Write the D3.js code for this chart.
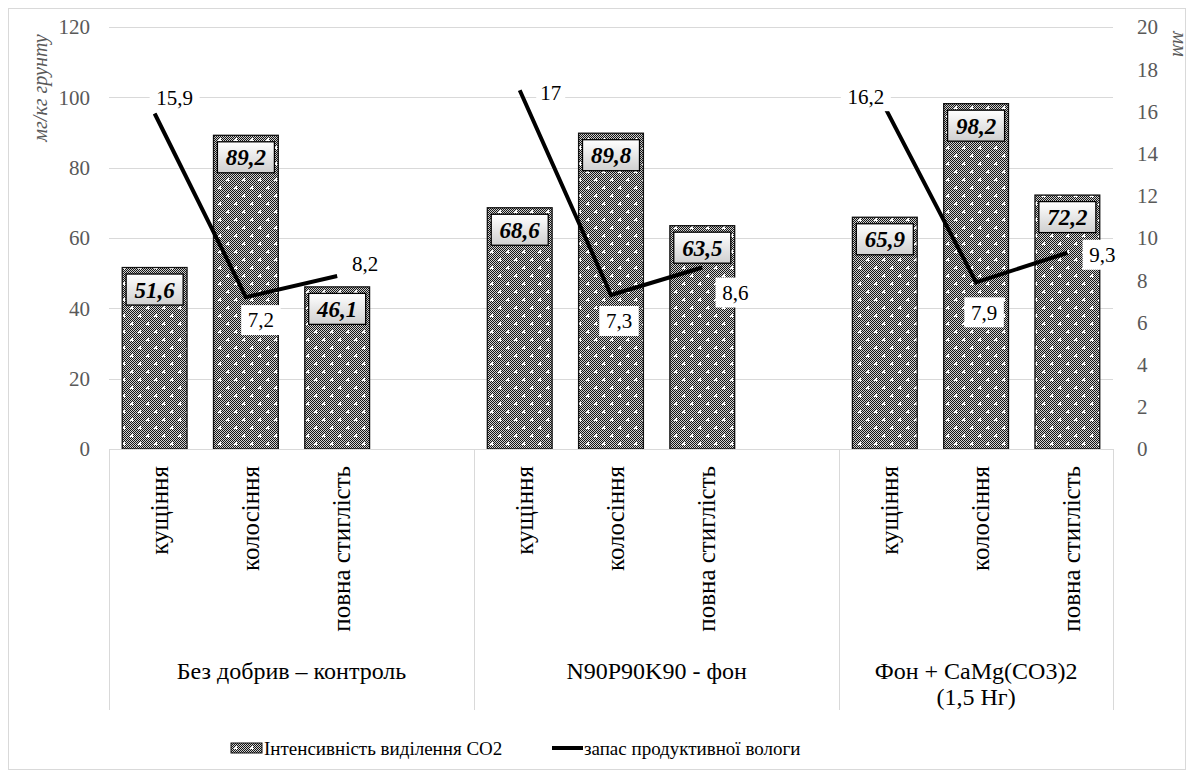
<!DOCTYPE html>
<html><head><meta charset="utf-8">
<script src="https://cdn.jsdelivr.net/npm/d3@7"></script>
<style>body{margin:0;background:#fff}svg{display:block}</style>
</head><body>
<svg id="c" width="1194" height="778" font-family="'Liberation Serif', Tinos, 'DejaVu Serif', serif"></svg>
<script>
const groups = ["Без добрив – контроль", "N90P90K90 - фон", "Фон + CaMg(CO3)2|(1,5 Нг)"];
const stages = ["кущіння", "колосіння", "повна стиглість"];
const co2 = [51.6, 89.2, 46.1, 68.6, 89.8, 63.5, 65.9, 98.2, 72.2];
const moisture = [15.9, 7.2, 8.2, 17, 7.3, 8.6, 16.2, 7.9, 9.3];
const leftTicks = [0, 20, 40, 60, 80, 100, 120];
const rightTicks = [0, 2, 4, 6, 8, 10, 12, 14, 16, 18, 20];
const seriesNames = ["Інтенсивність виділення СО2", "запас продуктивної вологи"];
const axisTitles = ["мг/кг грунту", "мм"];

// layout (not data)
const lineLabelOffsets = [[20,-16],[15,23],[28,-12],[31,2],[8,26],[33,25],[-19,-11],[8,30],[35,2]];

const svg = d3.select("#c");
const L = 109, R = 1113, T = 27, B = 449;
const nSlots = 11;
const slotOf = i => Math.floor(i/3)*4 + (i%3);
const x = d3.scaleBand().domain(d3.range(nSlots)).range([L, R]).padding(0);
const yL = d3.scaleLinear().domain([0, 120]).range([B, T]);
const yR = d3.scaleLinear().domain([0, 20]).range([B, T]);
const bw = x.bandwidth() * 0.71;
const cx = i => x(slotOf(i)) + x.bandwidth()/2;

const defs = svg.append("defs");
const chk = defs.append("pattern").attr("id","chk").attr("width",2).attr("height",2).attr("patternUnits","userSpaceOnUse");
chk.append("rect").attr("width",2).attr("height",2).attr("fill","#d0d0d0");
chk.append("rect").attr("width",1).attr("height",1).attr("fill","#151515");
chk.append("rect").attr("x",1).attr("y",1).attr("width",1).attr("height",1).attr("fill","#151515");
const dots = defs.append("pattern").attr("id","dots").attr("width",16).attr("height",16).attr("patternUnits","userSpaceOnUse");
dots.append("rect").attr("width",16).attr("height",16).attr("fill","url(#chk)");
[[4,4],[12,12]].forEach(([a,b])=>{
  dots.append("rect").attr("x",a-1).attr("y",b-1).attr("width",2).attr("height",2).attr("fill","#fff");
  dots.append("rect").attr("x",a-2).attr("y",b).attr("width",4).attr("height",1).attr("fill","#fff");
  dots.append("rect").attr("x",a).attr("y",b-2).attr("width",1).attr("height",4).attr("fill","#fff");
});
const lg = defs.append("linearGradient").attr("id","lbl").attr("x1",0).attr("y1",0).attr("x2",0).attr("y2",1);
lg.append("stop").attr("offset","0%").attr("stop-color","#ffffff");
lg.append("stop").attr("offset","100%").attr("stop-color","#cfcfcf");

// chart border
svg.append("rect").attr("x",8.5).attr("y",8.5).attr("width",1177).attr("height",761).attr("fill","none").attr("stroke","#d9d9d9");

// gridlines
svg.append("g").selectAll("line").data(leftTicks).join("line")
  .attr("x1",L).attr("x2",R).attr("y1",d=>Math.round(yL(d))+0.5).attr("y2",d=>Math.round(yL(d))+0.5)
  .attr("stroke","#d9d9d9").attr("stroke-width",1);

// left axis labels
svg.append("g").selectAll("text").data(leftTicks).join("text")
  .attr("x",90).attr("y",d=>yL(d)).attr("dy","0.35em").attr("text-anchor","end")
  .attr("font-size",21).attr("fill","#595959").text(d=>d);
// right axis labels
svg.append("g").selectAll("text").data(rightTicks).join("text")
  .attr("x",1137).attr("y",d=>yR(d)).attr("dy","0.35em").attr("text-anchor","start")
  .attr("font-size",21).attr("fill","#595959").text(d=>d);

// axis titles
svg.append("text").attr("transform","translate(40,88) rotate(-90)").attr("text-anchor","middle").attr("dy","0.35em")
  .attr("font-size",20).attr("font-style","italic").attr("fill","#595959").text(axisTitles[0]);
svg.append("text").attr("transform","translate(1180,44) rotate(90)").attr("text-anchor","middle").attr("dy","0.35em")
  .attr("font-size",20).attr("font-style","italic").attr("fill","#595959").text(axisTitles[1]);

// bars
svg.append("g").selectAll("rect").data(co2).join("rect")
  .attr("x",(d,i)=>cx(i)-bw/2).attr("y",d=>yL(d)).attr("width",bw).attr("height",d=>B-yL(d))
  .attr("fill","url(#dots)").attr("stroke","#111").attr("stroke-width",1.3);

// group separators below axis
const sepSlots = [0, 4, 8, 11];
svg.append("g").selectAll("line").data(sepSlots).join("line")
  .attr("x1",d=>Math.round(d===11?R:x(d))+0.5).attr("x2",d=>Math.round(d===11?R:x(d))+0.5)
  .attr("y1",B).attr("y2",710).attr("stroke","#d9d9d9");

// category labels
svg.append("g").selectAll("text").data(co2).join("text")
  .attr("transform",(d,i)=>`translate(${cx(i)+13},${466}) rotate(-90)`)
  .attr("text-anchor","end").attr("font-size",25).attr("fill","#000")
  .text((d,i)=>stages[i%3]);

// group labels
groups.forEach((g,gi)=>{
  const s0 = gi*4, s1 = gi===2 ? 11 : gi*4+4;
  const gx = (x(s0) + (s1===11?R:x(s1)))/2;
  const lines = g.split("|");
  lines.forEach((t,li)=>{
    svg.append("text").attr("x",gx).attr("y",671+li*26).attr("dy","0.35em").attr("text-anchor","middle")
      .attr("font-size",24).attr("fill","#000").text(t);
  });
});

// baseline
svg.append("line").attr("x1",L).attr("x2",R).attr("y1",B+0.5).attr("y2",B+0.5).attr("stroke","#d9d9d9");

// bar labels
const bl = svg.append("g");
co2.forEach((d,i)=>{
  const bx = cx(i), by = yL(d)+22;
  bl.append("rect").attr("x",bx-28.5).attr("y",by-15.5).attr("width",57).attr("height",31)
    .attr("fill","url(#lbl)").attr("stroke","#000").attr("stroke-width",1.3);
  bl.append("text").attr("x",bx).attr("y",by).attr("dy","0.35em").attr("text-anchor","middle")
    .attr("font-size",23).attr("font-weight","bold").attr("font-style","italic").attr("fill","#000")
    .text(d3.format(".1f")(d).replace(".",","));
});

// line (three segments)
const line = d3.line().x(d=>cx(d.i)).y(d=>yR(d.v));
for (let g=0; g<3; g++){
  const seg = moisture.slice(g*3,g*3+3).map((v,k)=>({i:g*3+k, v}));
  svg.append("path").attr("d",line(seg)).attr("fill","none").attr("stroke","#000").attr("stroke-width",4).attr("stroke-linejoin","miter");
}

// line labels
const ll = svg.append("g");
moisture.forEach((v,i)=>{
  const [dx,dy] = lineLabelOffsets[i];
  const lx = cx(i)+dx, ly = yR(v)+dy;
  const t = String(v).replace(".",",");
  const w = t.length*10.5+8;
  ll.append("rect").attr("x",lx-w/2).attr("y",ly-15).attr("width",w).attr("height",30).attr("fill","#fff");
  ll.append("text").attr("x",lx).attr("y",ly).attr("dy","0.35em").attr("text-anchor","middle")
    .attr("font-size",21).attr("fill","#000").text(t);
});

// legend
const leg = svg.append("g");
leg.append("rect").attr("x",231).attr("y",743).attr("width",31).attr("height",10).attr("fill","url(#dots)").attr("stroke","#111");
leg.append("text").attr("x",264).attr("y",748).attr("dy","0.35em").attr("font-size",19).text(seriesNames[0]);
leg.append("line").attr("x1",552).attr("x2",583).attr("y1",748).attr("y2",748).attr("stroke","#000").attr("stroke-width",4);
leg.append("text").attr("x",584).attr("y",748).attr("dy","0.35em").attr("font-size",19).text(seriesNames[1]);
</script>
</body></html>
